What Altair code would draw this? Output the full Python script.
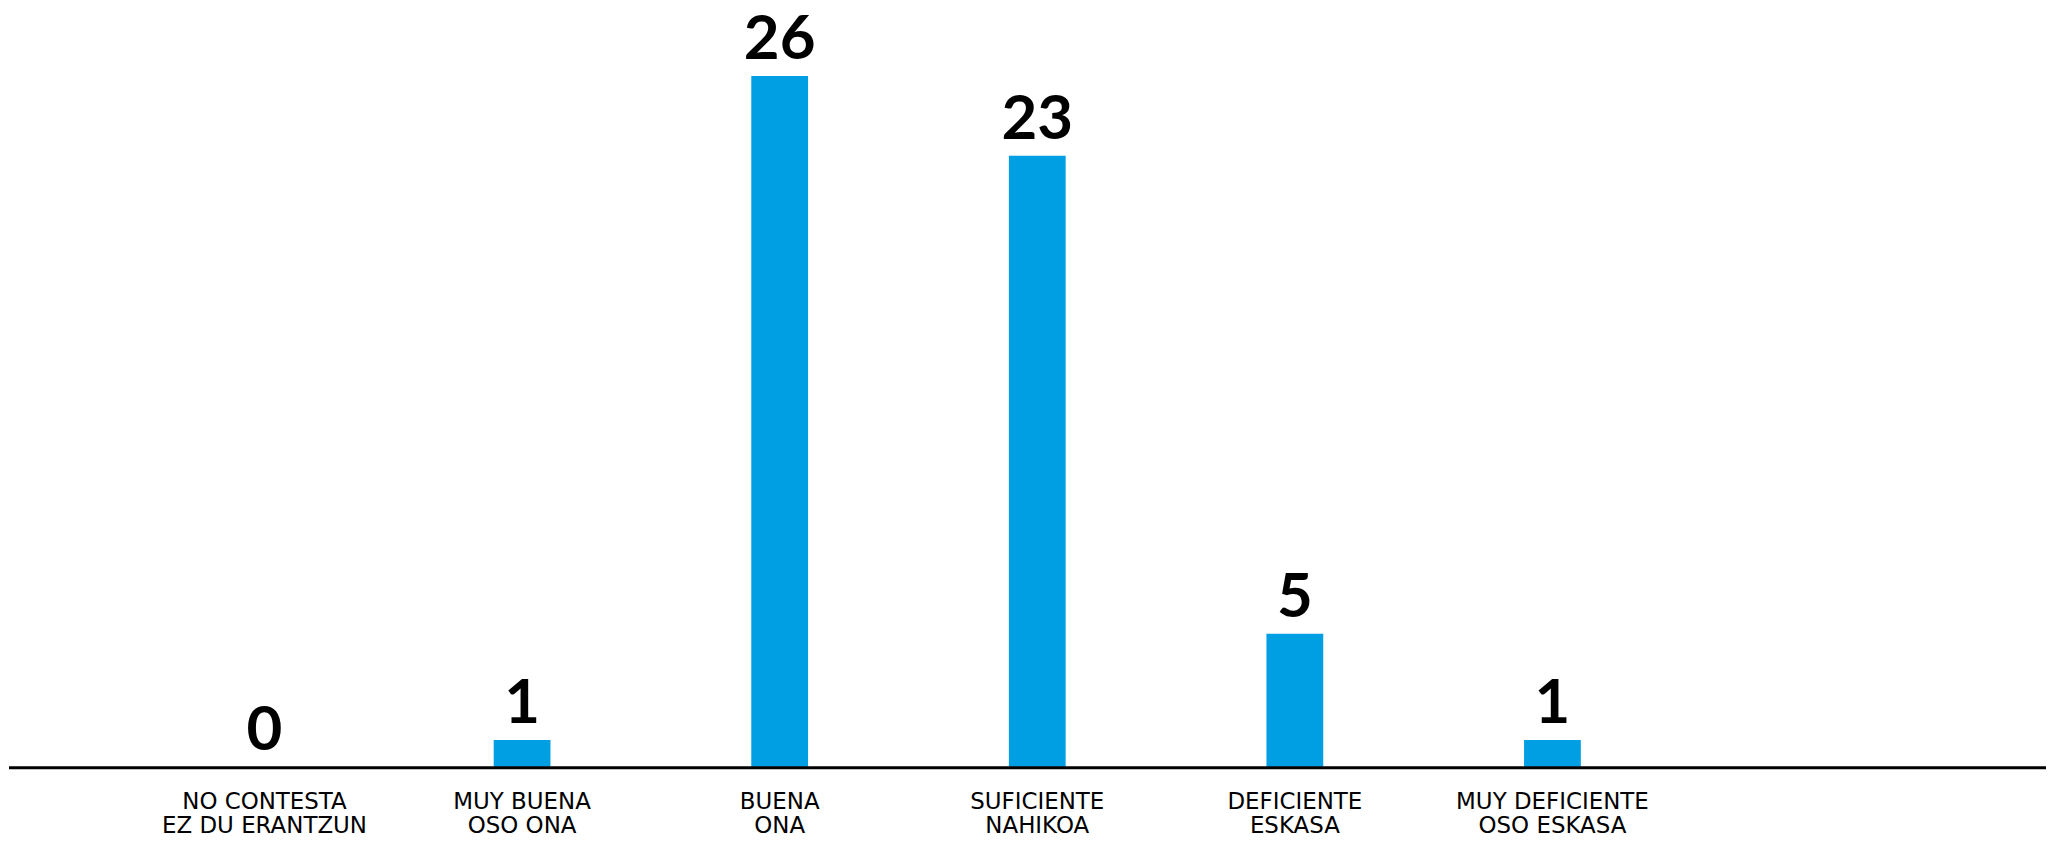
import altair as alt
import pandas as pd

labels_es = ["NO CONTESTA", "MUY BUENA", "BUENA", "SUFICIENTE", "DEFICIENTE", "MUY DEFICIENTE"]
labels_eu = ["EZ DU ERANTZUN", "OSO ONA", "ONA", "NAHIKOA", "ESKASA", "OSO ESKASA"]
values = [0, 1, 26, 23, 5, 1]

cats = [f"{a}|{b}" for a, b in zip(labels_es, labels_eu)]
df = pd.DataFrame({"cat": cats, "value": values})
base_df = pd.DataFrame({"start": [0.0], "end": [1.0], "level": [0]})

xscale = alt.Scale(paddingInner=0.7796, paddingOuter=0, range=[228, 1578], round=False)
x = alt.X(
    "cat:N", sort=cats, title=None, scale=xscale,
    axis=alt.Axis(
        labelExpr="split(datum.label, '|')", labelAngle=0, ticks=False,
        domain=False, labelFont="DejaVu Sans",
        labelFontSize=23, labelColor="#000000", labelPadding=24,
        labelLineHeight=24, grid=False, labelLimit=500, labelOverlap=False,
    ),
)
yscale = alt.Scale(domain=[0, 28.5], nice=False)
y = alt.Y("value:Q", scale=yscale, axis=None)

bars = alt.Chart(df).mark_bar(color="#009FE3").encode(x=x, y=y)
text = alt.Chart(df).mark_text(
    font="Lato", fontWeight="bold", fontSize=62, baseline="alphabetic",
    dy=-17, color="#000000",
).encode(x=alt.X("cat:N", sort=cats), y=y, text="value:Q")

baseline_rule = alt.Chart(base_df).mark_rule(
    color="#000000", strokeWidth=3, yOffset=1
).encode(
    x=alt.X("start:Q", scale=alt.Scale(domain=[0, 1], nice=False, zero=False), axis=None),
    x2="end:Q",
    y=alt.Y("level:Q", scale=yscale, axis=None),
)

chart = alt.layer(alt.layer(bars, text), baseline_rule).resolve_scale(
    x="independent"
).properties(
    width=2045, height=760,
    padding={"left": 1, "top": 0, "right": 0, "bottom": 66},
    autosize=alt.AutoSizeParams(type="none"),
    background="white",
).configure_view(stroke=None)

chart.save("out.html", embed_options={"renderer": "svg", "actions": False})
